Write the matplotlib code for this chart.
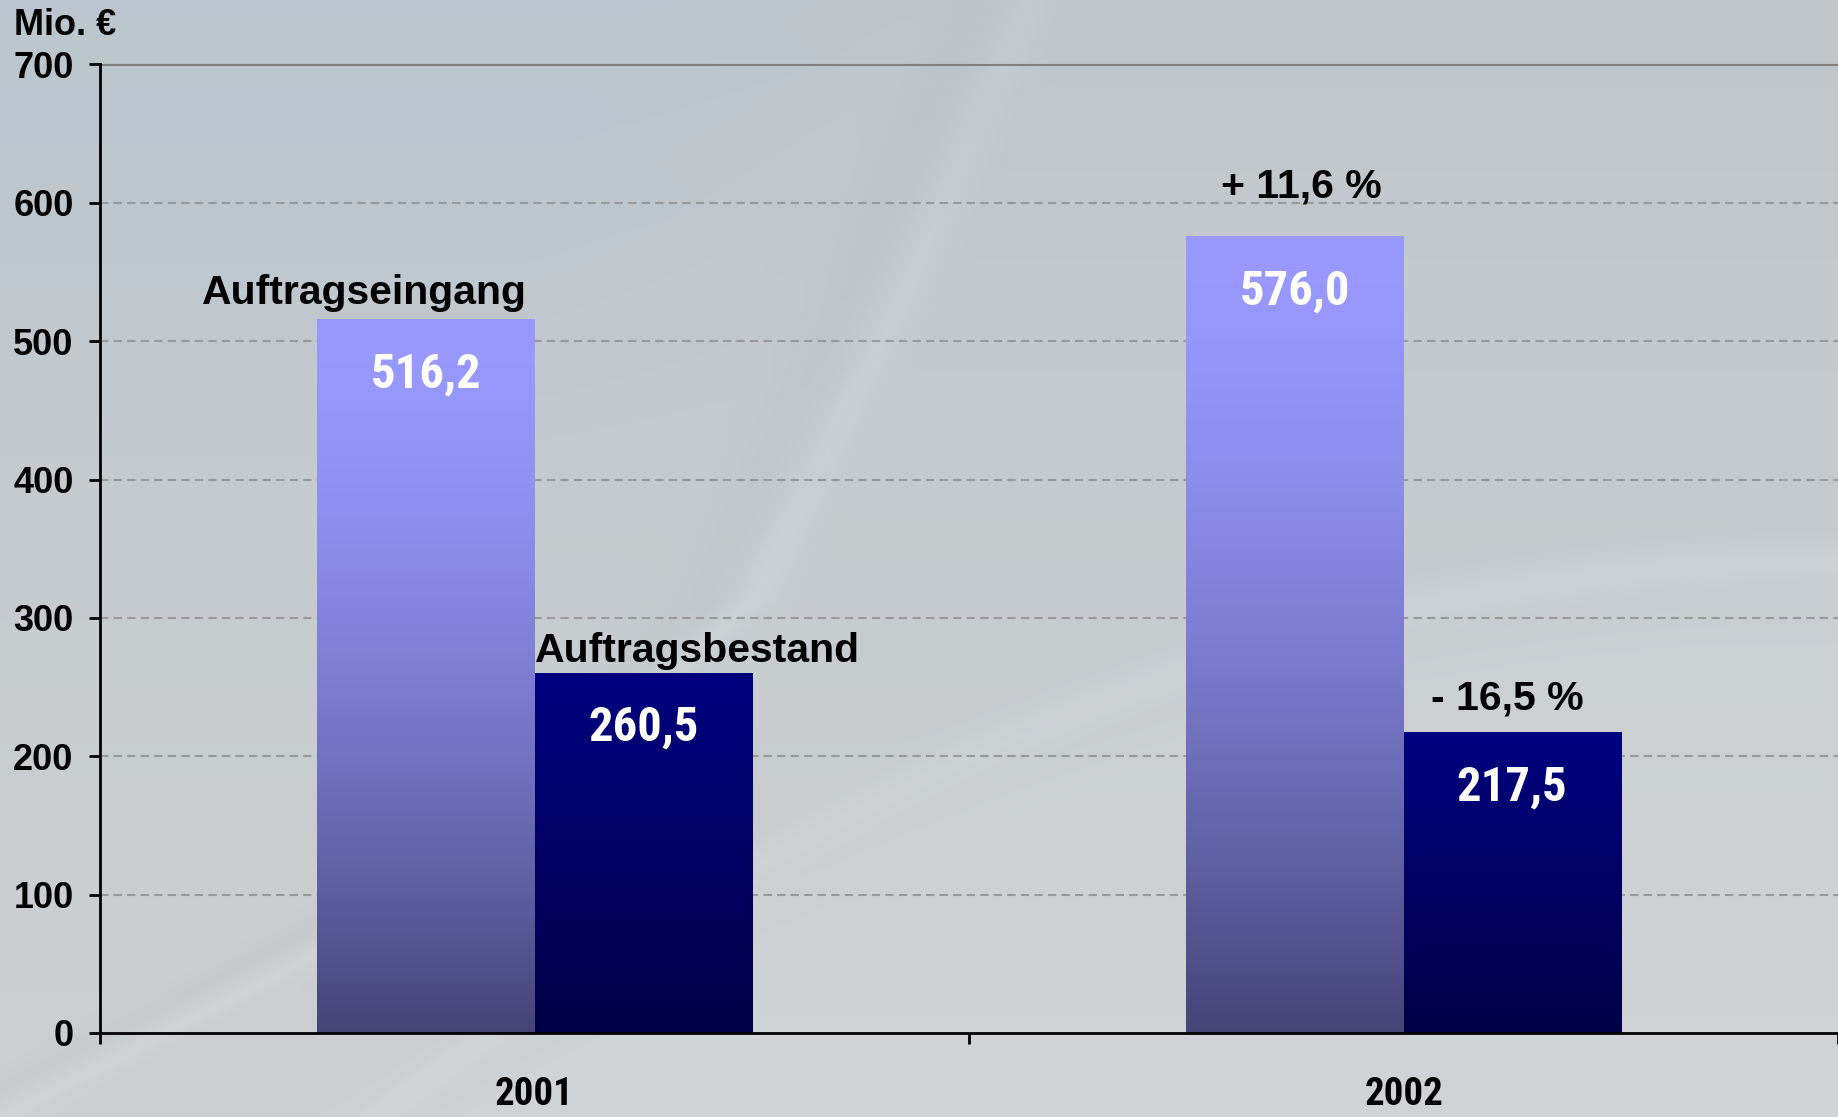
import numpy as np
import matplotlib
matplotlib.use('Agg')
import matplotlib.pyplot as plt
from matplotlib import colors

# chart values
years = ['2001', '2002']
series = ['Auftragseingang', 'Auftragsbestand']
eingang = [516.2, 576.0]
bestand = [260.5, 217.5]
eingang_txt = ['516,2', '576,0']
bestand_txt = ['260,5', '217,5']
changes = ['+ 11,6 %', '- 16,5 %']
yticks = [0, 100, 200, 300, 400, 500, 600, 700]

BOLD = ['Liberation Sans', 'DejaVu Sans']
NARROW = ['Roboto Condensed', 'Archivo Narrow', 'Asap Condensed', 'Liberation Sans']

W, H = 1838, 1117
fig = plt.figure(figsize=(W / 100, H / 100), dpi=100)

# slide background with soft swooshes
bg = fig.add_axes([0, 0, 1, 1], zorder=-10)
xx, yy = np.meshgrid(np.arange(0, W, 2.0), np.arange(0, H, 2.0))
c_top = np.array(colors.to_rgb('#c0c7cc'))
c_bot = np.array(colors.to_rgb('#cdd0d2'))
img = c_top + (c_bot - c_top) * (yy / H)[..., None]
# streak from lower left to top middle
sx = np.interp(yy, [0, 300, 600, 900, 1117], [1030, 900, 753, 420, 0])
d = (xx - sx) / 22.0
img += 0.018 * np.exp(-d ** 2)[..., None]
img -= 0.012 * np.exp(-((d + 2.5) / 1.5) ** 2)[..., None]
# bluish tint upper left
blue = np.clip((sx - xx) / 400.0, 0, 1) * np.clip((560 - yy) / 300.0, 0, 1)
img += (blue * 0.015)[..., None] * np.array([-1.0, -0.3, 0.4])
# arc on the right
ay = 560 + ((xx - 1838) / 1000.0) ** 2 * 260
da = (yy - ay) / 20.0
img += 0.02 * np.exp(-da ** 2)[..., None]
img += 0.015 * np.clip((yy - ay) / 80.0, 0, 1)[..., None]
bg.imshow(np.clip(img, 0, 1), extent=(0, 1, 0, 1), aspect='auto', origin='upper')
bg.axis('off')

ax = fig.add_axes([100 / W, 1 - 1033 / H, 1 - 100 / W, (1033 - 64.5) / H])
ax.set_facecolor('none')

x = np.arange(len(years)) + 0.5
bw = 0.25


def grad_bar(bar, top, bottom, power):
    t = np.linspace(0, 1, 256)[:, None] ** power
    c1 = np.array(colors.to_rgb(top))
    c2 = np.array(colors.to_rgb(bottom))
    g = c1 + (c2 - c1) * t[..., None]
    bx, by = bar.get_x(), bar.get_y()
    im = ax.imshow(g, extent=(bx, bx + bar.get_width(), by, by + bar.get_height()),
                   aspect='auto', origin='upper', zorder=3)
    im.set_clip_path(bar)


b1 = ax.bar(x - bw / 2, eingang, bw, color='none', edgecolor='none', zorder=3)
b2 = ax.bar(x + bw / 2, bestand, bw, color='none', edgecolor='none', zorder=3)
for b in b1:
    grad_bar(b, '#9999ff', '#444477', 1.6)
for b in b2:
    grad_bar(b, '#000080', '#000046', 1.0)

for xi, v, s in zip(x - bw / 2, eingang, eingang_txt):
    ax.text(xi, v - 40, s, ha='center', va='center', color='white',
            fontsize=35, fontweight='bold', family=NARROW, zorder=5)
for xi, v, s in zip(x + bw / 2, bestand, bestand_txt):
    ax.text(xi, v - 40, s, ha='center', va='center', color='white',
            fontsize=35, fontweight='bold', family=NARROW, zorder=5)

# series names on the 2001 bars
ax.text(x[0] - bw - 0.133, eingang[0] + 11, series[0], ha='left', va='baseline',
        fontsize=29.5, fontweight='bold', family=BOLD)
ax.text(x[0] + 0.001, bestand[0] + 8, series[1], ha='left', va='baseline',
        fontsize=29.5, fontweight='bold', family=BOLD)

# changes on the 2002 bars
ax.text(x[1] - bw / 2 + 0.008, eingang[1] + 28, changes[0], ha='center', va='baseline',
        fontsize=29.5, fontweight='bold', family=BOLD)
ax.text(x[1] + bw / 2 - 0.005, bestand[1] + 16, changes[1], ha='center', va='baseline',
        fontsize=29.5, fontweight='bold', family=BOLD)

ax.set_xlim(0, 2)
ax.set_ylim(0, 700)
ax.set_yticks(yticks)
ax.set_yticklabels([str(t) for t in yticks], fontsize=26, fontweight='bold', family=BOLD)
ax.set_xticks([0, 1, 2])
ax.set_xticklabels([])
ax.set_xticks(x, minor=True)
ax.set_xticklabels(years, minor=True, fontsize=28, fontweight='bold', family=NARROW)
ax.tick_params(axis='x', which='major', length=8, width=2, direction='out')
ax.tick_params(axis='x', which='minor', length=0, pad=31)
ax.tick_params(axis='y', length=8, width=2, direction='out', pad=11)

for yv in yticks[1:-1]:
    ax.axhline(yv, color='#999999', lw=1.5, ls=(0, (4, 2.5)), zorder=1)

ax.spines['right'].set_visible(False)
ax.spines['top'].set_color('#808080')
ax.spines['top'].set_linewidth(1.5)
ax.spines['left'].set_linewidth(2)
ax.spines['bottom'].set_linewidth(2)
ax.spines['left'].set_zorder(6)
ax.spines['bottom'].set_zorder(6)

fig.text(14 / W, 1 - 35 / H, 'Mio. €', ha='left', va='baseline',
         fontsize=26, fontweight='bold', family=BOLD)

fig.savefig('out.png', dpi=100)
